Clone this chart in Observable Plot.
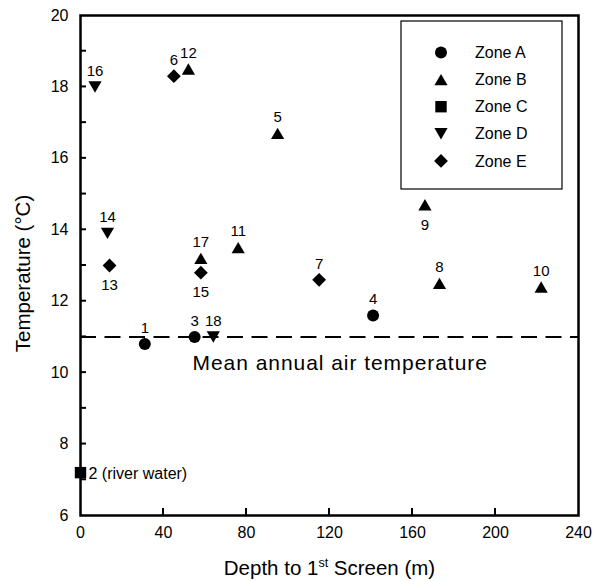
<!DOCTYPE html>
<html>
<head>
<meta charset="utf-8">
<script src="https://cdn.jsdelivr.net/npm/d3@7"></script>
<script src="https://cdn.jsdelivr.net/npm/@observablehq/plot@0.6"></script>
<style>
  html, body { margin: 0; padding: 0; background: #fff; }
  #chart svg { display: block; }
</style>
</head>
<body>
<div id="chart"></div>
<script>
// Well temperatures against depth to the first screen, by hydrogeologic zone
const wellIds       = [1, 2, 3, 4, 5, 6, 7, 8, 9, 10, 11, 12, 13, 14, 15, 16, 17, 18];
const wellZones     = ["A", "C", "A", "A", "B", "E", "E", "B", "B", "B", "B", "B", "E", "D", "E", "D", "B", "D"];
const screenDepths  = [31, 0, 55, 141, 95, 45, 115, 173, 166, 222, 76, 52, 14, 13, 58, 7, 58, 64];
const temperatures  = [10.8, 7.2, 11.0, 11.6, 16.7, 18.3, 12.6, 12.5, 14.7, 12.4, 13.5, 18.5, 13.0, 13.9, 12.8, 18.0, 13.2, 11.0];
const wellNotes     = {2: "(river water)"};

const zoneLetters = ["A", "B", "C", "D", "E"];
const zoneNames   = zoneLetters.map(z => "Zone " + z);

const meanAirTemp  = 11;
const meanAirLabel = "Mean annual air temperature";
const meanLabelDepth = 54;

const xTicks      = [0, 40, 80, 120, 160, 200, 240];
const yMajorTicks = [6, 8, 10, 12, 14, 16, 18, 20];
const yMinorTicks = [7, 9, 11, 13, 15, 17, 19];

const xTitle = "Depth to 1st Screen (m)";
const yTitle = "Temperature (°C)";

// label placement: most numbers sit above their symbol
const labelsBelow = [9, 13, 15];
const labelsRight = [2];

const wells = wellIds.map((id, i) => ({
  id,
  zone: wellZones[i],
  depth: screenDepths[i],
  temp: temperatures[i],
  label: wellNotes[id] ? `${id} ${wellNotes[id]}` : String(id)
}));

// filled marker shapes; size comes in as r²·π
const rad = size => Math.sqrt(size / Math.PI);
const symbols = {
  A: {draw(c, s) { const r = rad(s); c.moveTo(r, 0); c.arc(0, 0, r, 0, 2 * Math.PI); c.closePath(); }},
  B: {draw(c, s) { const r = rad(s), w = r * 1.1, h = r * 0.95; c.moveTo(0, -h); c.lineTo(w, h); c.lineTo(-w, h); c.closePath(); }},
  C: {draw(c, s) { const r = rad(s) * 0.95; c.moveTo(-r, -r); c.lineTo(r, -r); c.lineTo(r, r); c.lineTo(-r, r); c.closePath(); }},
  D: {draw(c, s) { const r = rad(s), w = r * 1.1, h = r * 0.95; c.moveTo(0, h); c.lineTo(w, -h); c.lineTo(-w, -h); c.closePath(); }},
  E: {draw(c, s) { const r = rad(s) * 1.15; c.moveTo(0, -r); c.lineTo(r, 0); c.lineTo(0, r); c.lineTo(-r, 0); c.closePath(); }}
};

const W = 600, H = 581;
const margin = {top: 15, right: 22, bottom: 66, left: 80};
const font = "'Liberation Sans', Arial, Helvetica, sans-serif";
const dotR = 6;
const tickLen = 7;

const above = wells.filter(d => !labelsBelow.includes(d.id) && !labelsRight.includes(d.id));
const below = wells.filter(d => labelsBelow.includes(d.id));
const right = wells.filter(d => labelsRight.includes(d.id));

const svg = Plot.plot({
  width: W,
  height: H,
  marginTop: margin.top,
  marginRight: margin.right,
  marginBottom: margin.bottom,
  marginLeft: margin.left,
  style: {fontFamily: font, fontSize: "16px", color: "#000", background: "#fff", overflow: "visible"},
  x: {domain: [0, 240]},
  y: {domain: [6, 20]},
  marks: [
    Plot.ruleY([meanAirTemp], {stroke: "#000", strokeWidth: 2, strokeDasharray: "16,8.5"}),
    Plot.text([meanAirLabel], {x: () => meanLabelDepth, y: () => meanAirTemp, textAnchor: "start", lineAnchor: "middle", dy: 26, fontSize: 21, fill: "#000"}),
    Plot.axisX({ticks: xTicks, tickSize: 0, tickPadding: 11, label: null, fontSize: 16, tickFormat: d => String(d)}),
    Plot.axisY({ticks: yMajorTicks, tickSize: 0, tickPadding: 12, label: null, fontSize: 16, tickFormat: d => String(d)}),
    Plot.frame({stroke: "#000", strokeWidth: 2.5}),
    ...zoneLetters.map(z =>
      Plot.dot(wells.filter(d => d.zone === z), {x: "depth", y: "temp", symbol: symbols[z], r: dotR, fill: "#000", stroke: "none"})
    ),
    Plot.text(above, {x: "depth", y: "temp", text: "label", dy: -16, fontSize: 15, fill: "#000"}),
    Plot.text(below, {x: "depth", y: "temp", text: "label", dy: 20, fontSize: 15, fill: "#000"}),
    Plot.text(right, {x: "depth", y: "temp", text: "label", dx: 8, dy: 1, textAnchor: "start", fontSize: 16, fill: "#000"}),
    Plot.text([xTitle], {frameAnchor: "bottom", textAnchor: "middle", lineAnchor: "middle", dy: 53, fontSize: 20.5, fill: "#000"}),
    Plot.text([yTitle], {frameAnchor: "left", textAnchor: "middle", lineAnchor: "middle", dx: -57, dy: 8, rotate: -90, fontSize: 20.5, fill: "#000"})
  ]
});

const root = d3.select(svg);
const sx = svg.scale("x"), sy = svg.scale("y");
const x0 = sx.apply(0), yBottom = sy.apply(6);

// the annotation text is set a little wider than the default tracking
root.selectAll("text").filter(function () { return this.textContent === meanAirLabel; })
  .style("letter-spacing", "0.95px");

// inward tick marks on the bottom and left axes, placed with the plot's scales
const ticks = root.append("g").attr("stroke", "#000").attr("stroke-width", 2);
xTicks.slice(1, -1).forEach(v => {
  const px = sx.apply(v);
  ticks.append("line").attr("x1", px).attr("x2", px).attr("y1", yBottom).attr("y2", yBottom - tickLen);
});
[...yMajorTicks.slice(1, -1), ...yMinorTicks].forEach(v => {
  const py = sy.apply(v);
  ticks.append("line").attr("x1", x0).attr("x2", x0 + tickLen - 1).attr("y1", py).attr("y2", py);
});

// superscript ordinal in the x-axis title
root.selectAll("text").filter(function () { return this.textContent === xTitle; }).each(function () {
  const t = d3.select(this);
  t.text(null);
  t.append("tspan").text("Depth to 1");
  t.append("tspan").attr("font-size", 12.5).attr("dy", -8).text("st");
  t.append("tspan").attr("dy", 8).text(" Screen (m)");
});

// boxed legend in the upper-right corner of the frame
const frameRight = W - margin.right;
const box = {x: frameRight - 177, y: margin.top + 6, w: 161, h: 168};
const legend = root.append("g").attr("font-family", font).attr("font-size", 16).attr("text-anchor", "start");
legend.append("rect")
  .attr("x", box.x).attr("y", box.y).attr("width", box.w).attr("height", box.h)
  .attr("fill", "#fff").attr("stroke", "#000").attr("stroke-width", 1.2);
zoneLetters.forEach((z, i) => {
  const cy = box.y + 31.5 + i * 27.1;
  const p = d3.path();
  symbols[z].draw(p, dotR * dotR * Math.PI);
  legend.append("path").attr("d", p.toString()).attr("transform", `translate(${box.x + 40},${cy})`).attr("fill", "#000");
  legend.append("text").attr("x", box.x + 74).attr("y", cy).attr("dy", "0.35em").attr("text-anchor", "start").attr("fill", "#000").text(zoneNames[i]);
});

document.getElementById("chart").appendChild(svg);
</script>
</body>
</html>
